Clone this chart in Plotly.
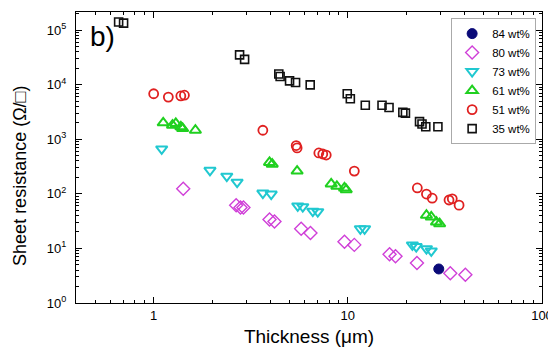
import plotly.graph_objects as go

# ---- data ----
x84 = [29.4]
y84 = [4.2]

x80 = [1.42, 2.66, 2.80, 2.90, 3.95, 4.19, 5.75, 6.42, 9.61, 10.8, 16.4, 17.6, 22.7, 33.7, 40.3]
y80 = [124, 62, 56, 56, 34, 31, 22.8, 19.2, 13.2, 11.6, 7.8, 7.2, 5.4, 3.5, 3.3]

x73 = [1.10, 1.95, 2.38, 2.69, 3.65, 4.03, 5.52, 5.86, 6.60, 7.00, 11.6, 12.2, 21.5, 22.5, 25.4, 26.9]
y73 = [664, 269, 210, 163, 103, 99, 60, 58, 48, 47, 22.9, 22.9, 11.6, 10.8, 9.9, 9.0]

x61 = [1.12, 1.25, 1.30, 1.38, 1.41, 1.64, 3.95, 4.08, 5.48, 8.21, 8.78, 9.61, 9.81, 25.4, 26.9, 28.6, 29.7]
y61 = [2000, 1810, 1950, 1690, 1570, 1460, 375, 349, 261, 152, 137, 128, 119, 40.5, 37.6, 30.4, 28.3]

x51 = [1.0, 1.19, 1.38, 1.44, 3.65, 5.42, 5.48, 7.09, 7.43, 7.74, 10.8, 22.8, 25.4, 27.2, 33.2, 34.5, 37.4]
y51 = [6800, 5900, 6200, 6400, 1460, 766, 693, 560, 536, 513, 261, 128, 99, 83, 77, 81, 62]

x35 = [0.66, 0.70, 2.77, 2.94, 4.41, 4.48, 5.01, 5.38, 6.40, 9.93, 10.3, 12.3, 15.0, 16.3, 19.2, 19.8, 23.4, 24.1, 25.2, 29.1]
y35 = [1.40e5, 1.34e5, 3.5e4, 2.9e4, 1.56e4, 1.41e4, 1.17e4, 1.09e4, 9.9e3, 6.8e3, 5.5e3, 4.2e3, 4.2e3, 3.8e3, 3.1e3, 3.0e3, 2.1e3, 1.9e3, 1.69e3, 1.69e3]

x_tickvals = [1, 10, 100]
x_ticktext = ["1", "10", "100"]
y_tickvals = [1, 10, 100, 1000, 10000, 100000]
y_ticktext = ["10<sup>0</sup>", "10<sup>1</sup>", "10<sup>2</sup>", "10<sup>3</sup>", "10<sup>4</sup>", "10<sup>5</sup>"]

series = [
    ("84 wt%", x84, y84, "circle", "#0a0a78", 10, 1.0),
    ("80 wt%", x80, y80, "diamond-open", "#d040d8", 10, 1.4),
    ("73 wt%", x73, y73, "triangle-down-open", "#20c8d0", 10, 2.0),
    ("61 wt%", x61, y61, "triangle-up-open", "#20d020", 10, 2.0),
    ("51 wt%", x51, y51, "circle-open", "#e02020", 9, 1.8),
    ("35 wt%", x35, y35, "square-open", "#111111", 8, 1.6),
]

FONT = "Liberation Sans, Arial, sans-serif"

# minor tick positions (2..9 within each decade)
x_minor = [m * 10 ** e for e in (-1, 0, 1) for m in range(2, 10)]
y_minor = [m * 10 ** e for e in range(0, 6) for m in range(2, 10)]

fig = go.Figure()
for name, xs, ys, sym, col, size, lw in series:
    fig.add_trace(go.Scatter(
        x=xs, y=ys, mode="markers", name=name,
        marker=dict(symbol=sym, color=col, size=size, line=dict(color=col, width=lw)),
    ))

axis_common = dict(
    type="log", showgrid=False, zeroline=False, showline=True, linecolor="black",
    linewidth=1, mirror="allticks", ticks="inside", ticklen=6, tickcolor="black",
    tickwidth=1, tickfont=dict(family=FONT, size=13, color="black"),
    ticklabeloverflow="allow",
)

fig.update_xaxes(
    **axis_common, range=[-0.4, 2], tickmode="array", tickvals=x_tickvals, ticktext=x_ticktext,
    minor=dict(ticks="inside", ticklen=3, tickcolor="black", tickwidth=1, showgrid=False,
               tickmode="array", tickvals=x_minor),
    title=dict(text="Thickness (\u03bcm)", font=dict(family=FONT, size=19, color="black"), standoff=8),
)
fig.update_yaxes(
    **axis_common, range=[0, 5.33], tickmode="array", tickvals=y_tickvals, ticktext=y_ticktext,
    minor=dict(ticks="inside", ticklen=3, tickcolor="black", tickwidth=1, showgrid=False,
               tickmode="array", tickvals=y_minor),
    ticklabelstandoff=6,
)

# y-axis title (placed slightly below centre, as in the reference)
fig.add_annotation(text="Sheet resistance (\u03a9/\u25a1)", xref="paper", yref="paper",
                   x=-0.12, y=0.437, xanchor="center", yanchor="middle", textangle=-90,
                   showarrow=False, font=dict(family=FONT, size=18, color="black"))

fig.add_annotation(text="b)", xref="paper", yref="paper", x=0.025, y=0.975,
                   xanchor="left", yanchor="top", showarrow=False,
                   font=dict(family=FONT, size=28, color="black"))

# page has an 8px body margin: figure is placed at (8, 8) in the window
fig.update_layout(
    width=548, height=345,
    margin=dict(l=68, r=6, t=3, b=50),
    paper_bgcolor="white", plot_bgcolor="white",
    showlegend=True,
    legend=dict(x=0.805, y=0.979, xanchor="left", yanchor="top",
                bordercolor="#aaaaaa", borderwidth=1, bgcolor="white",
                font=dict(family=FONT, size=11.5, color="black"),
                tracegroupgap=0, itemwidth=30),
    font=dict(family=FONT),
)

fig.write_html("out.html")
